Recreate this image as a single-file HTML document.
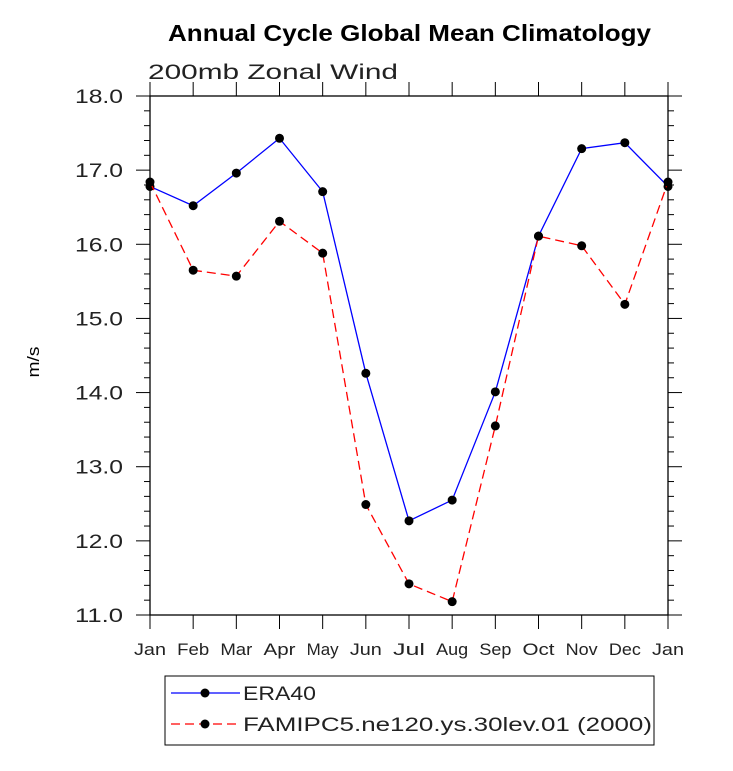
<!DOCTYPE html>
<html><head><meta charset="utf-8"><style>
body{margin:0;background:#fff;}
svg text{font-family:"Liberation Sans",sans-serif;}
</style></head><body>
<svg width="733" height="766" xmlns="http://www.w3.org/2000/svg">
<text x="168" y="41" font-size="23" font-weight="bold" textLength="483" lengthAdjust="spacingAndGlyphs">Annual Cycle Global Mean Climatology</text>
<text x="148" y="79" font-size="21" fill="#222" textLength="250" lengthAdjust="spacingAndGlyphs">200mb Zonal Wind</text>
<text x="0" y="0" font-size="17" text-anchor="middle" textLength="31" lengthAdjust="spacingAndGlyphs" transform="translate(39,362) rotate(-90)">m/s</text>
<g id="axes"></g>
<g id="series"></g>
<rect x="165" y="676" width="489" height="69" fill="none" stroke="#000" stroke-width="1"/>
<g>
<line x1="171" y1="693" x2="240" y2="693" stroke="#0000ff" stroke-width="1.3"/>
<circle cx="205" cy="693" r="4.5" fill="#000"/>
<text x="243" y="700" font-size="19" fill="#222" textLength="73" lengthAdjust="spacingAndGlyphs">ERA40</text></g>
<g>
<line x1="171" y1="724" x2="240" y2="724" stroke="#ff0000" stroke-width="1.3" stroke-dasharray="9,5"/>
<circle cx="205" cy="724" r="4.5" fill="#000"/>
<text x="243" y="731" font-size="19" fill="#222" textLength="409" lengthAdjust="spacingAndGlyphs">FAMIPC5.ne120.ys.30lev.01 (2000)</text></g>
</svg>
<script>
const months=["Jan","Feb","Mar","Apr","May","Jun","Jul","Aug","Sep","Oct","Nov","Dec","Jan"];
const era40=[16.78,16.52,16.96,17.43,16.71,14.26,12.27,12.55,14.01,16.11,17.29,17.37,16.78];
const famip=[16.84,15.65,15.57,16.31,15.88,12.49,11.42,11.18,13.55,16.11,15.98,15.19,16.84];
const yTicks=["11.0","12.0","13.0","14.0","15.0","16.0","17.0","18.0"];
const L=150,R=668,T=96,B=615,Y0=11,Y1=18;
const xs=i=>L+(R-L)*i/(months.length-1);
const ys=v=>B-(v-Y0)/(Y1-Y0)*(B-T);
const NS="http://www.w3.org/2000/svg";
function mk(tag,attrs,parent){const e=document.createElementNS(NS,tag);for(const k in attrs)e.setAttribute(k,attrs[k]);parent.appendChild(e);return e;}
const ax=document.getElementById('axes');
const frame=mk('rect',{x:L,y:T,width:R-L,height:B-T,fill:'none',stroke:'#000','stroke-width':1.3},ax);


for(let v=Y0;v<=Y1+1e-6;v+=0.2){
  const major=Math.abs(v-Math.round(v))<1e-6, y=ys(v), len=major?14:6;
  mk('line',{x1:L-len,y1:y,x2:L,y2:y,stroke:'#000','stroke-width':1},ax);
  mk('line',{x1:R,y1:y,x2:R+len,y2:y,stroke:'#000','stroke-width':1},ax);
}
yTicks.forEach(t=>{
  const tx=mk('text',{x:75,y:ys(parseFloat(t))+7,'font-size':19,fill:'#222',textLength:48,lengthAdjust:'spacingAndGlyphs'},ax);
  tx.textContent=t;
  
  
});
months.forEach((m,i)=>{
  const x=xs(i);
  mk('line',{x1:x,y1:B,x2:x,y2:B+14,stroke:'#000','stroke-width':1},ax);
  mk('line',{x1:x,y1:T-14,x2:x,y2:T,stroke:'#000','stroke-width':1},ax);
  const tx=mk('text',{x:x-16,y:655,'font-size':17,fill:'#222',textLength:32,lengthAdjust:'spacingAndGlyphs'},ax);
  tx.textContent=m;
  
  
});
const sg=document.getElementById('series');
function series(vals,color,dash,name){
  const g=mk('g',{},sg);
  
  
  const pts=vals.map((v,i)=>xs(i)+','+ys(v)).join(' ');
  const pl=mk('polyline',{points:pts,fill:'none',stroke:color,'stroke-width':1.3},g);
  if(dash)pl.setAttribute('stroke-dasharray',dash);
  vals.forEach((v,i)=>{
    const c=mk('circle',{cx:xs(i),cy:ys(v),r:4.5,fill:'#000'},g);
    
    
  });
}
series(era40,'#0000ff',null,'era40-line');
series(famip,'#ff0000','9,5','famip-line');
</script>
</body></html>
